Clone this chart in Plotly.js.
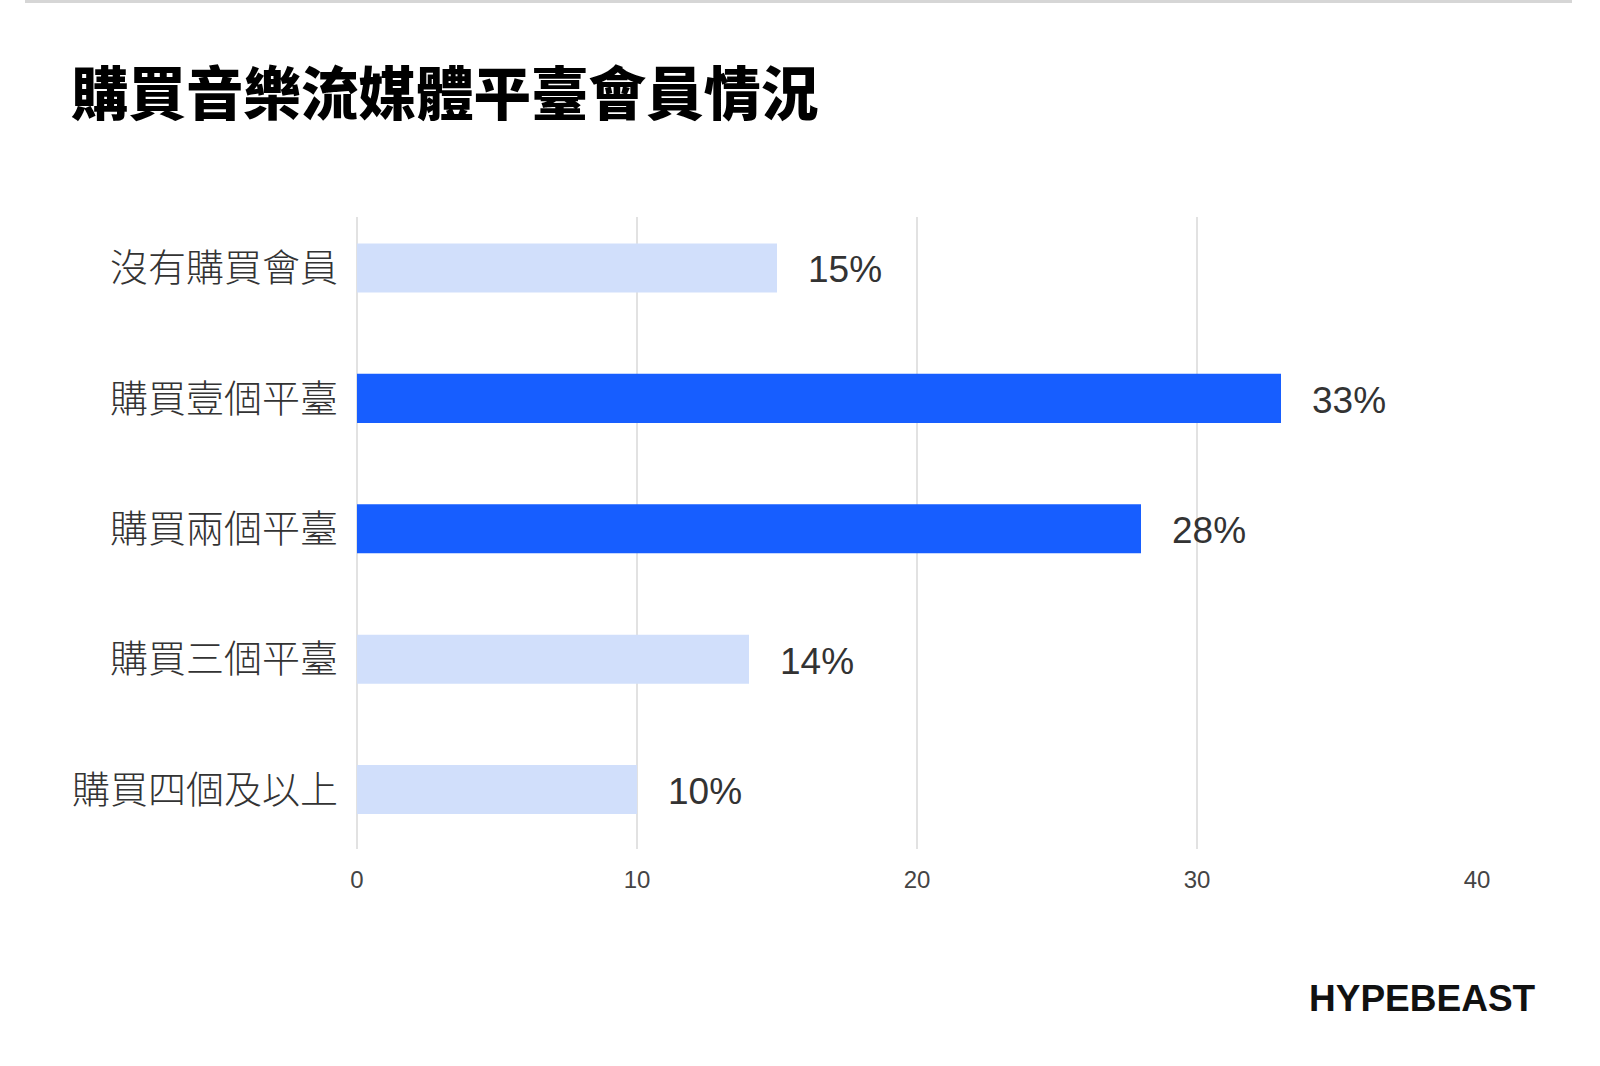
<!DOCTYPE html>
<html>
<head>
<meta charset="utf-8">
<script src="https://cdn.plot.ly/plotly-3.0.1.min.js"></script>
<style>
  html, body { margin: 0; padding: 0; background: #ffffff; }
  #chart { width: 1600px; height: 1066px; }
</style>
</head>
<body>
<div id="chart"></div>
<script>
// ---- data ----
const categories = ["沒有購買會員", "購買壹個平臺", "購買兩個平臺", "購買三個平臺", "購買四個及以上"];
const values = [15, 33, 28, 14, 10];
const barColors = ["#D1DFFB", "#175EFF", "#175EFF", "#D1DFFB", "#D1DFFB"];
const xTickValues = [0, 10, 20, 30, 40];
const titleText = "購買音樂流媒體平臺會員情況";
const brandText = "HYPEBEAST";

const cjk = '"Noto Sans CJK TC", "Noto Sans CJK SC", sans-serif';
const latin = '"Liberation Sans", Arial, sans-serif';

const trace = {
  type: "bar",
  orientation: "h",
  x: values,
  y: categories,
  marker: { color: barColors, line: { width: 0 } },
  hoverinfo: "none"
};

const valueAnnotations = values.map((v, i) => ({
  x: v,
  y: categories[i],
  xref: "x",
  yref: "y",
  text: v + "%",
  showarrow: false,
  xanchor: "left",
  yanchor: "middle",
  xshift: 29,
  yshift: -2,
  font: { family: latin, size: 37, color: "#333333" }
}));

const layout = {
  width: 1600,
  height: 1066,
  paper_bgcolor: "#ffffff",
  plot_bgcolor: "#ffffff",
  margin: { l: 357, r: 123, t: 217, b: 217, pad: 0 },
  showlegend: false,
  bargap: 0.624,
  title: {
    text: titleText,
    x: 71 / 1600,
    xref: "container",
    xanchor: "left",
    y: 1 - 95 / 1066,
    yref: "container",
    yanchor: "middle",
    font: { family: cjk, size: 57.5, color: "#000000", weight: 900 }
  },
  xaxis: {
    range: [0, 40],
    tickvals: xTickValues,
    ticktext: xTickValues.map(String),
    showgrid: true,
    gridcolor: "#E2E2E2",
    gridwidth: 2,
    zeroline: true,
    zerolinecolor: "#E2E2E2",
    zerolinewidth: 2,
    showline: false,
    ticks: "",
    ticklabelstandoff: 14,
    tickfont: { family: latin, size: 24, color: "#444444" },
    fixedrange: true
  },
  yaxis: {
    type: "category",
    categoryorder: "array",
    categoryarray: categories,
    range: [4.456, -0.391],
    showgrid: false,
    zeroline: false,
    showline: false,
    ticks: "",
    ticklabelstandoff: 18,
    tickfont: { family: cjk, size: 38, color: "#333333", weight: 300 },
    fixedrange: true
  },
  shapes: [
    {
      type: "line",
      xref: "paper", yref: "paper",
      x0: (25 - 357) / 1120, x1: (1572 - 357) / 1120,
      y0: (849 - 1.5) / 632, y1: (849 - 1.5) / 632,
      line: { color: "#D6D6D6", width: 3 }
    }
  ],
  annotations: valueAnnotations.concat([
    {
      text: "<b>" + brandText + "</b>",
      xref: "paper", yref: "paper",
      x: (1538 - 357) / 1120,
      y: (849 - 998) / 632,
      xanchor: "right",
      yanchor: "middle",
      showarrow: false,
      font: { family: latin, size: 37, color: "#111111" }
    }
  ])
};

Plotly.newPlot("chart", [trace], layout, { displayModeBar: false, staticPlot: true });
</script>
</body>
</html>
